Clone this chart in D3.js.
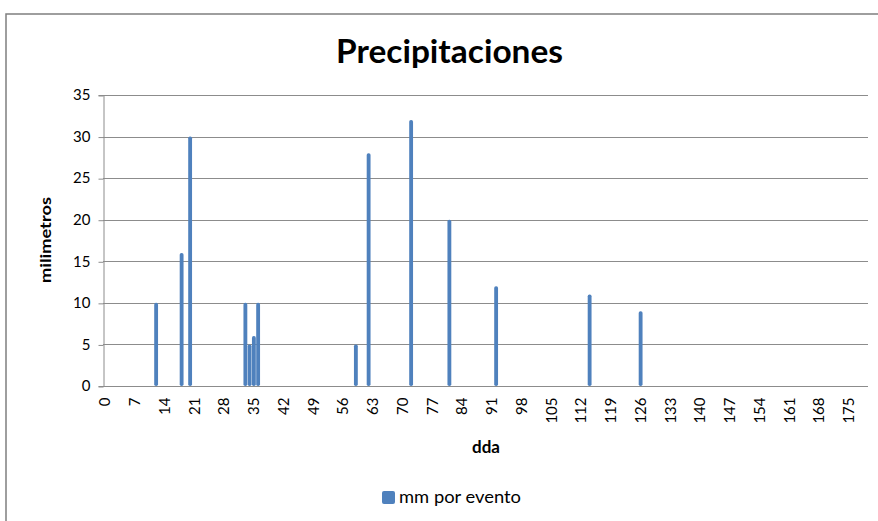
<!DOCTYPE html>
<html>
<head>
<meta charset="utf-8">
<script src="https://cdn.jsdelivr.net/npm/d3@7"></script>
<style>
  html, body { margin: 0; padding: 0; background: #fff; }
  svg { display: block; }
  text { font-family: Lato, "Open Sans", sans-serif; fill: #000; }
</style>
</head>
<body>
<script>
// Días después de la aplicación (dda) con lluvia y milímetros caídos en cada evento
const dias = [12, 18, 20, 33, 34, 35, 36, 59, 62, 72, 81, 92, 114, 126];
const mmPorEvento = [10, 16, 30, 10, 5, 6, 10, 5, 28, 32, 20, 12, 11, 9];

// Eje de categorías: un día por categoría, etiquetado cada 7 días
const primerDia = 0;
const ultimoDia = 179;
const etiquetasDias = [0, 7, 14, 21, 28, 35, 42, 49, 56, 63, 70, 77, 84, 91, 98,
  105, 112, 119, 126, 133, 140, 147, 154, 161, 168, 175];
const ticksMm = [0, 5, 10, 15, 20, 25, 30, 35];

const titulo = "Precipitaciones";
const tituloY = "milimetros";
const tituloX = "dda";
const nombreSerie = "mm por evento";

const W = 878, H = 521;
const plot = { left: 103, right: 868, top: 95, bottom: 386 };
const azul = "#4F81BD";
const gris = "#8C8C8C";

const svg = d3.select("body").append("svg")
  .attr("width", W).attr("height", H);

// marco del gráfico
svg.append("rect")
  .attr("x", 6).attr("y", 14)
  .attr("width", W + 40).attr("height", H + 40)
  .attr("fill", "#fff")
  .attr("stroke", "#7F7F7F").attr("stroke-width", 1.5);

const x = d3.scaleBand()
  .domain(d3.range(primerDia, ultimoDia + 1))
  .range([plot.left, plot.right])
  .paddingInner(0).paddingOuter(0);

const y = d3.scaleLinear()
  .domain([0, 35])
  .range([plot.bottom, plot.top]);

// líneas de división horizontales
svg.append("g")
  .selectAll("line")
  .data(ticksMm.filter(d => d > 0))
  .join("line")
  .attr("x1", plot.left).attr("x2", plot.right)
  .attr("y1", d => Math.round(y(d)) + 0.5)
  .attr("y2", d => Math.round(y(d)) + 0.5)
  .attr("stroke", gris).attr("stroke-width", 1);

// eje Y
const ejeY = svg.append("g")
  .attr("transform", `translate(${plot.left + 0.5},0)`)
  .call(d3.axisLeft(y).tickValues(ticksMm).tickSize(5).tickPadding(8));
ejeY.select(".domain").attr("stroke", gris);
ejeY.selectAll(".tick line").attr("stroke", gris)
  .attr("transform", "translate(0,0.5)");
ejeY.selectAll(".tick text")
  .style("font-family", "Lato, sans-serif")
  .attr("font-size", 15).attr("fill", "#000");

// barras (ancho casi completo de cada día, extremos suavizados)
svg.append("g")
  .selectAll("rect")
  .data(dias.map((d, i) => ({ dia: d, mm: mmPorEvento[i] })))
  .join("rect")
  .attr("x", d => x(d.dia) + 0.2)
  .attr("width", x.bandwidth() - 0.4)
  .attr("y", d => y(d.mm))
  .attr("height", d => y(0) - y(d.mm))
  .attr("rx", 1.8)
  .attr("fill", azul);

// eje X
const ejeX = svg.append("g")
  .attr("transform", `translate(0,${plot.bottom + 0.5})`)
  .call(d3.axisBottom(x).tickValues(etiquetasDias).tickSize(0).tickPadding(0));
ejeX.select(".domain").attr("stroke", gris).attr("d", `M${plot.left},0H${plot.right}`);
ejeX.selectAll(".tick text")
  .style("font-family", "Lato, sans-serif")
  .attr("font-size", 15).attr("fill", "#000")
  .attr("text-anchor", "end")
  .attr("dy", "0.35em")
  .attr("transform", "translate(0,11) rotate(-90)")
  .attr("x", 0).attr("y", 0);

// título
svg.append("text")
  .attr("x", 449.5).attr("y", 63)
  .attr("text-anchor", "middle")
  .attr("font-size", 33).attr("font-weight", "bold")
  .attr("textLength", 227).attr("lengthAdjust", "spacingAndGlyphs")
  .text(titulo);

// título eje Y
svg.append("text")
  .attr("transform", "translate(51,240) rotate(-90)")
  .attr("text-anchor", "middle")
  .attr("font-size", 16).attr("font-weight", "bold")
  .attr("textLength", 86).attr("lengthAdjust", "spacingAndGlyphs")
  .text(tituloY);

// título eje X
svg.append("text")
  .attr("x", 486).attr("y", 453)
  .attr("text-anchor", "middle")
  .attr("font-size", 17).attr("font-weight", "bold")
  .text(tituloX);

// leyenda
const leyenda = svg.append("g");
leyenda.append("rect")
  .attr("x", 382).attr("y", 491)
  .attr("width", 13).attr("height", 13)
  .attr("rx", 2)
  .attr("fill", azul);
leyenda.append("text")
  .attr("x", 399).attr("y", 503)
  .attr("font-size", 17)
  .attr("textLength", 122).attr("lengthAdjust", "spacingAndGlyphs")
  .text(nombreSerie);
</script>
</body>
</html>
